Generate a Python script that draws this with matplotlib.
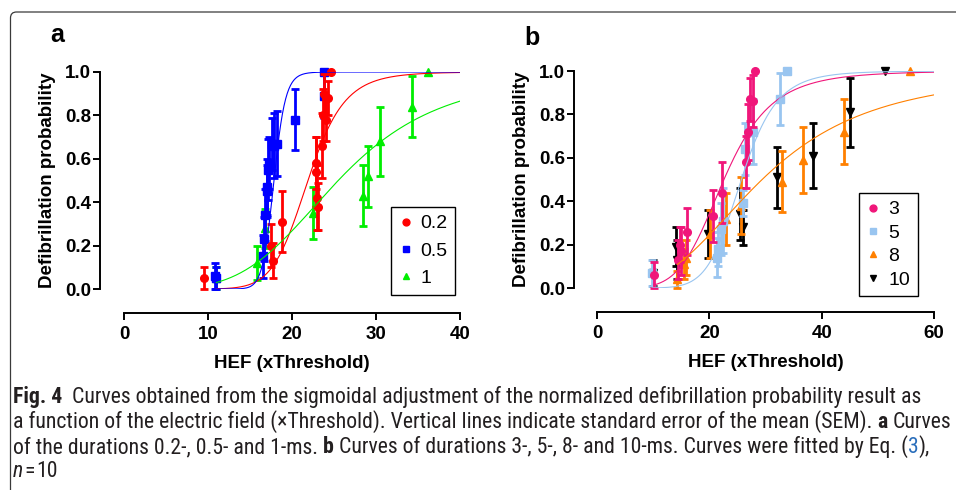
import matplotlib
matplotlib.use('Agg')
import numpy as np
import matplotlib.pyplot as plt
from matplotlib import font_manager
from matplotlib.path import Path
from matplotlib.patches import PathPatch
from matplotlib.transforms import IdentityTransform

plt.rcParams['font.family'] = ['Liberation Sans', 'DejaVu Sans']

# ---- panel a: pulse durations 0.2, 0.5 and 1 ms ----
red_x = [9.5, 17.5, 17.7, 18.8, 22.8, 22.9, 23.0, 23.1, 23.6, 23.7, 23.8, 24.0, 24.3, 24.6]
red_y = [0.05, 0.20, 0.13, 0.31, 0.58, 0.54, 0.42, 0.38, 0.66, 0.80, 0.90, 0.78, 0.88, 1.00]
red_sem = [0.05, 0.10, 0.08, 0.14, 0.12, 0.16, 0.15, 0.11, 0.15, 0.12, 0.09, 0.10, 0.08, 0.0]

blue_x = [10.8, 10.9, 16.6, 16.7, 16.8, 17.0, 17.0, 17.2, 17.3, 17.6, 17.8, 18.2, 20.4, 23.8, 23.8]
blue_y = [0.06, 0.05, 0.15, 0.23, 0.34, 0.45, 0.47, 0.55, 0.58, 0.67, 0.66, 0.67, 0.78, 0.89, 1.00]
blue_sem = [0.06, 0.05, 0.10, 0.10, 0.12, 0.12, 0.13, 0.14, 0.12, 0.12, 0.15, 0.15, 0.14, 0.10, 0.0]

green_x = [11.0, 15.8, 16.8, 22.5, 28.4, 29.0, 30.5, 34.3, 36.2]
green_y = [0.05, 0.12, 0.28, 0.35, 0.43, 0.52, 0.68, 0.84, 1.00]
green_sem = [0.05, 0.08, 0.09, 0.12, 0.14, 0.14, 0.16, 0.14, 0.0]

a_labels = ['0.2', '0.5', '1']
# fitted sigmoid (Hill) parameters: EC50, slope, start of curve
a_ec50 = [21.9, 17.85, 25.5]
a_slope = [10.1, 26.0, 4.14]
a_start = [11.0, 11.0, 11.0]

# ---- panel b: pulse durations 3, 5, 8 and 10 ms ----
pink_x = [10.1, 14.5, 14.8, 15.0, 16.0, 20.7, 22.3, 26.5, 26.8, 27.2, 27.7, 28.1]
pink_y = [0.06, 0.13, 0.20, 0.17, 0.26, 0.33, 0.44, 0.58, 0.72, 0.87, 0.86, 1.00]
pink_sem = [0.06, 0.09, 0.08, 0.11, 0.11, 0.12, 0.14, 0.12, 0.13, 0.10, 0.12, 0.0]

lblue_x = [9.8, 21.3, 21.6, 22.0, 22.4, 26.0, 26.4, 27.8, 32.5, 33.8]
lblue_y = [0.07, 0.14, 0.18, 0.27, 0.31, 0.39, 0.64, 0.72, 0.87, 1.00]
lblue_sem = [0.06, 0.09, 0.08, 0.12, 0.15, 0.06, 0.12, 0.15, 0.12, 0.0]

orange_x = [14.3, 15.5, 15.8, 20.1, 22.9, 25.7, 33.0, 36.6, 43.9, 55.7]
orange_y = [0.04, 0.11, 0.14, 0.25, 0.32, 0.38, 0.49, 0.59, 0.72, 1.00]
orange_sem = [0.04, 0.07, 0.08, 0.11, 0.12, 0.13, 0.14, 0.15, 0.15, 0.0]

black_x = [9.9, 14.0, 14.2, 19.7, 25.5, 26.0, 32.1, 38.5, 45.0, 51.2]
black_y = [0.07, 0.19, 0.13, 0.25, 0.34, 0.28, 0.51, 0.61, 0.81, 1.00]
black_sem = [0.06, 0.09, 0.09, 0.11, 0.12, 0.08, 0.14, 0.15, 0.16, 0.0]

b_labels = ['3', '5', '8', '10']
b_ec50 = [22.6, 25.7, 29.4]
b_slope = [5.33, 8.15, 2.93]
b_start = [10.1, 9.8, 14.3]

caption_lines = [
    'Curves obtained from the sigmoidal adjustment of the normalized '
    'defibrillation probability result as',
    'a function of the electric field (\u00d7Threshold). Vertical lines '
    'indicate standard error of the mean (SEM).',
    'of the durations 0.2-, 0.5- and 1-ms.',
    'Curves of durations 3-, 5-, 8- and 10-ms. Curves were fitted by Eq. (',
]


def hill(x, ec50, n):
    return x ** n / (x ** n + ec50 ** n)


def draw_series(ax, x, y, sem, color, marker, label, z, ms=5.5):
    x = np.array(x)
    y = np.array(y)
    sem = np.array(sem)
    has = sem > 0
    eb = ax.errorbar(x[has], y[has], yerr=sem[has], fmt='none', ecolor=color,
                     elinewidth=2.0, capsize=3, capthick=2.0, zorder=z)
    for art in list(eb.lines[1]) + list(eb.lines[2]):
        art.set_clip_on(False)
    ln, = ax.plot(x, y, linestyle='none', marker=marker, color=color, ms=ms,
                  mec=color, label=label, zorder=z + 0.1, clip_on=False)
    return ln


def style_axes(ax, xmax, xticks, left_off, bottom_off):
    ax.set_xlim(0, xmax)
    ax.set_ylim(0, 1)
    ax.spines['top'].set_visible(False)
    ax.spines['right'].set_visible(False)
    ax.spines['left'].set_position(('outward', left_off))
    ax.spines['bottom'].set_position(('outward', bottom_off))
    for s in ['left', 'bottom']:
        ax.spines[s].set_linewidth(1.4)
    ax.set_xticks(xticks)
    ax.set_yticks([0, 0.2, 0.4, 0.6, 0.8, 1.0])
    ax.set_yticklabels(['%.1f' % v for v in [0, 0.2, 0.4, 0.6, 0.8, 1.0]])
    ax.tick_params(axis='both', width=1.4, length=5, labelsize=13.5)
    ax.tick_params(axis='y', pad=1.5)
    ax.tick_params(axis='x', pad=4)
    for lab in ax.get_xticklabels() + ax.get_yticklabels():
        lab.set_fontweight('bold')
    ax.set_xlabel('HEF (xThreshold)', fontsize=13.5, fontweight='bold', labelpad=9)
    ax.set_ylabel('Defibrillation probability', fontsize=13.5, fontweight='bold', labelpad=6)
    ax.patch.set_visible(False)


def legend(ax, handles, anchor, spacing):
    lg = ax.legend(handles=handles, loc='upper left', bbox_to_anchor=anchor,
                   fontsize=14, frameon=True, fancybox=False, edgecolor='black',
                   framealpha=1, handlelength=0.7, handletextpad=0.4,
                   borderpad=0.4, labelspacing=spacing, borderaxespad=0,
                   markerscale=0.9)
    lg.get_frame().set_linewidth(1.0)


fig = plt.figure(figsize=(9.56, 4.9), dpi=100)
W, H = 956.0, 490.0

# ---- panel a ----
ax_a = fig.add_axes([124 / W, 1 - 289 / H, 336 / W, 217 / H])
style_axes(ax_a, 40, [0, 10, 20, 30, 40], 17.3, 17.3)
a_colors = ['#ff0000', '#0000ff', '#00ee00']
for c, e, n, s in zip(a_colors, a_ec50, a_slope, a_start):
    xs = np.linspace(s, 40, 300)
    ax_a.plot(xs, hill(xs, e, n), color=c, lw=0.8, zorder=6)
h_green = draw_series(ax_a, green_x, green_y, green_sem, a_colors[2], '^', a_labels[2], 3)
h_blue = draw_series(ax_a, blue_x, blue_y, blue_sem, a_colors[1], 's', a_labels[1], 4)
h_red = draw_series(ax_a, red_x, red_y, red_sem, a_colors[0], 'o', a_labels[0], 5)
legend(ax_a, [h_red, h_blue, h_green], (0.795, 0.378), 0.5)

# ---- panel b ----
ax_b = fig.add_axes([597 / W, 1 - 288 / H, 337 / W, 217 / H])
style_axes(ax_b, 60, [0, 20, 40, 60], 16.6, 17.3)
b_colors = ['#f0167a', '#99c5f0', '#ff8000', '#000000']
for c, e, n, s in zip(b_colors[:3], b_ec50, b_slope, b_start):
    xs = np.linspace(s, 60, 300)
    ax_b.plot(xs, hill(xs, e, n), color=c, lw=0.8, zorder=7)
h_black = draw_series(ax_b, black_x, black_y, black_sem, b_colors[3], 'v', b_labels[3], 3)
h_orange = draw_series(ax_b, orange_x, orange_y, orange_sem, b_colors[2], '^', b_labels[2], 4)
h_lblue = draw_series(ax_b, lblue_x, lblue_y, lblue_sem, b_colors[1], 's', b_labels[1], 5)
h_pink = draw_series(ax_b, pink_x, pink_y, pink_sem, b_colors[0], 'o', b_labels[0], 6)
legend(ax_b, [h_pink, h_lblue, h_orange, h_black], (0.777, 0.438), 0.3)

# panel letters
fig.text(57 / W, 1 - 35 / H, 'a', fontsize=18, fontweight='bold', ha='center', va='center')
fig.text(532 / W, 1 - 38 / H, 'b', fontsize=18, fontweight='bold', ha='center', va='center')

# frame around the figure (rounded top-left corner)
frame = Path([(10.5, 0), (10.5, H - 18), (10.5, H - 12), (16.5, H - 12), (W, H - 12)],
             [Path.MOVETO, Path.LINETO, Path.CURVE3, Path.CURVE3, Path.LINETO])
fig.add_artist(PathPatch(frame, fill=False, edgecolor='#3a3a3a', lw=0.9,
                         transform=IdentityTransform()))

# ---- caption: narrow font if one is installed ----
ttf = font_manager.fontManager.ttflist
names = {f.name for f in ttf}
cap_kw = {'family': ['DejaVu Sans']}
for cand in ['Liberation Sans Narrow', 'DejaVu Sans Condensed', 'Roboto Condensed']:
    if cand in names:
        cap_kw = {'family': [cand, 'DejaVu Sans']}
        break
else:
    if 'Liberation Sans' in names:
        cap_kw = {'family': ['Liberation Sans', 'DejaVu Sans']}

cap_color = '#231f20'
renderer = fig.canvas.get_renderer()

# size the caption so that its longest line (the second) fits like the reference
probe = fig.text(0, 0, caption_lines[1] + ' a Curves', fontsize=10, **cap_kw)
cap_size = 10 * 932.0 / probe.get_window_extent(renderer).width
cap_size = min(cap_size, 17.0)
probe.remove()

sp1 = fig.text(0, 0, 'a a', fontsize=cap_size, **cap_kw)
sp2 = fig.text(0, 0, 'aa', fontsize=cap_size, **cap_kw)
space_w = sp1.get_window_extent(renderer).width - sp2.get_window_extent(renderer).width
sp1.remove()
sp2.remove()


def caption_line(baseline_px, pieces):
    x = 13.0
    for txt, kw, gap in pieces:
        props = dict(fontsize=cap_size, color=cap_color)
        props.update(cap_kw)
        props.update(kw)
        t = fig.text(x / W, 1 - baseline_px / H, txt, va='baseline', ha='left', **props)
        x = t.get_window_extent(renderer).x1 + gap * space_w


bold = {'fontweight': 'bold'}
caption_line(403, [('Fig. 4', bold, 2), (caption_lines[0], {}, 0)])
caption_line(428, [(caption_lines[1], {}, 1), ('a', bold, 1), ('Curves', {}, 0)])
caption_line(453, [(caption_lines[2], {}, 1), ('b', bold, 1), (caption_lines[3], {}, 0),
                   ('3', {'color': '#2a6ebb'}, 0), ('),', {}, 0)])
caption_line(477, [('n', {'style': 'italic'}, 0.3), ('=', {}, 0.3), ('10', {}, 0)])

fig.savefig('out.png', dpi=100)
